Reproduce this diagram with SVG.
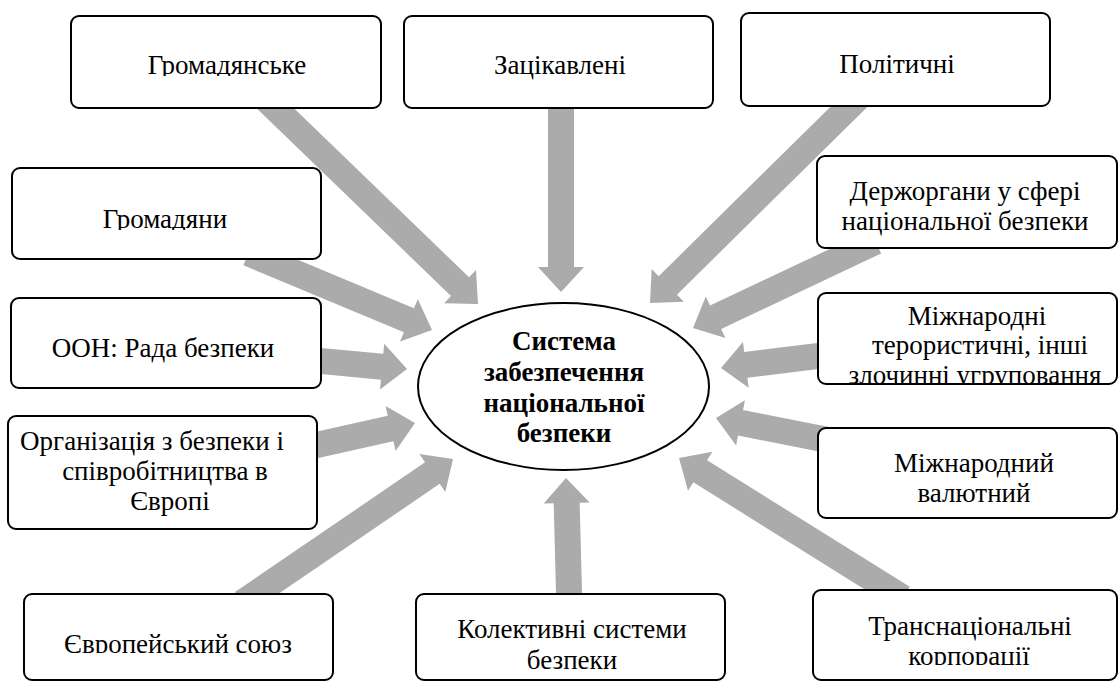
<svg xmlns="http://www.w3.org/2000/svg" width="1119" height="682" viewBox="0 0 1119 682">
<style>
.box{fill:#fff;stroke:#000;stroke-width:2}
.arr{fill:#ABABAB}
text{font-family:'Liberation Serif','Times New Roman',serif;font-size:27px;text-anchor:middle;fill:#000}
.b{font-weight:bold}
</style>
<defs>
<clipPath id="c1"><rect x="71" y="16" width="310" height="60"/></clipPath>
<clipPath id="c5"><rect x="12" y="168" width="309" height="62"/></clipPath>
<clipPath id="c8"><rect x="24" y="594" width="309" height="59"/></clipPath>
<clipPath id="c10"><rect x="818" y="293" width="299" height="90"/></clipPath>
<clipPath id="c12"><rect x="813" y="590" width="304" height="75"/></clipPath>
</defs>
<rect width="1119" height="682" fill="#fff"/>
<g id="connectors">
<polygon class="arr" transform="translate(478,304) rotate(44)" points="-300,-13 -25,-13 -25,-23 0,0 -25,23 -25,13 -300,13"/>
<polygon class="arr" transform="translate(561,292) rotate(90)" points="-200,-13 -25,-13 -25,-23 0,0 -25,23 -25,13 -200,13"/>
<polygon class="arr" transform="translate(650,303) rotate(135.4)" points="-296,-13 -25,-13 -25,-23 0,0 -25,23 -25,13 -296,13"/>
<polygon class="arr" transform="translate(693,328) rotate(154.7)" points="-202,-13 -25,-13 -25,-23 0,0 -25,23 -25,13 -202,13"/>
<polygon class="arr" transform="translate(432,330) rotate(22.7)" points="-199,-13 -25,-13 -25,-23 0,0 -25,23 -25,13 -199,13"/>
<polygon class="arr" transform="translate(407,369) rotate(5.3)" points="-101,-13 -25,-13 -25,-23 0,0 -25,23 -25,13 -101,13"/>
<polygon class="arr" transform="translate(415,423) rotate(-12.6)" points="-125,-13 -25,-13 -25,-23 0,0 -25,23 -25,13 -125,13"/>
<polygon class="arr" transform="translate(453,459) rotate(-34.3)" points="-255,-13 -25,-13 -25,-23 0,0 -25,23 -25,13 -255,13"/>
<polygon class="arr" transform="translate(566,478) rotate(-91.5)" points="-131,-13 -25,-13 -25,-23 0,0 -25,23 -25,13 -131,13"/>
<polygon class="arr" transform="translate(721,368) rotate(172.9)" points="-113,-13 -25,-13 -25,-23 0,0 -25,23 -25,13 -113,13"/>
<polygon class="arr" transform="translate(716,418) rotate(191.1)" points="-119,-13 -25,-13 -25,-23 0,0 -25,23 -25,13 -119,13"/>
<polygon class="arr" transform="translate(679,458) rotate(212)" points="-264,-13 -25,-13 -25,-23 0,0 -25,23 -25,13 -264,13"/>
</g>
<g id="n-center">
<ellipse cx="563.5" cy="386.5" rx="145.5" ry="83.5" fill="#fff" stroke="#000" stroke-width="2"/>
<text class="b" x="564" y="350">Система</text>
<text class="b" x="564" y="381">забезпечення</text>
<text class="b" x="564" y="412">національної</text>
<text class="b" x="564" y="442">безпеки</text>
</g>
<g id="n1">
<rect class="box" x="71" y="16" width="310" height="92" rx="8"/>
<text x="227" y="74" clip-path="url(#c1)">Громадянське</text>
</g>
<g id="n2">
<rect class="box" x="404" y="16" width="309" height="92" rx="8"/>
<text x="560" y="74">Зацікавлені</text>
</g>
<g id="n3">
<rect class="box" x="741" y="13" width="309" height="93" rx="8"/>
<text x="897" y="73">Політичні</text>
</g>
<g id="n4">
<rect class="box" x="817" y="156" width="300" height="92" rx="8"/>
<text x="965" y="200">Держоргани у сфері</text>
<text x="965" y="230">національної безпеки</text>
</g>
<g id="n5">
<rect class="box" x="12" y="168" width="309" height="91" rx="8"/>
<text x="165" y="228" clip-path="url(#c5)">Громадяни</text>
</g>
<g id="n6">
<rect class="box" x="11" y="298" width="310" height="90" rx="8"/>
<text x="163" y="357">ООН: Рада безпеки</text>
</g>
<g id="n7">
<rect class="box" x="8" y="416" width="309" height="113" rx="8"/>
<text x="152" y="450">Організація з безпеки і</text>
<text x="165" y="480">співробітництва в</text>
<text x="170" y="510">Європі</text>
</g>
<g id="n8">
<rect class="box" x="24" y="594" width="309" height="86" rx="8"/>
<text x="178" y="653" clip-path="url(#c8)">Європейський союз</text>
</g>
<g id="n9">
<rect class="box" x="416" y="594" width="309" height="86" rx="8"/>
<text x="572" y="638">Колективні системи</text>
<text x="572" y="669">безпеки</text>
</g>
<g id="n10">
<rect class="box" x="818" y="293" width="299" height="91" rx="8"/>
<g clip-path="url(#c10)">
<text x="977" y="325">Міжнародні</text>
<text x="980" y="354">терористичні, інші</text>
<text x="975" y="384">злочинні угруповання</text>
</g>
</g>
<g id="n11">
<rect class="box" x="818" y="428" width="299" height="90" rx="8"/>
<text x="974" y="472">Міжнародний</text>
<text x="974" y="502">валютний</text>
</g>
<g id="n12">
<rect class="box" x="813" y="590" width="304" height="90" rx="8"/>
<g clip-path="url(#c12)">
<text x="970" y="635">Транснаціональні</text>
<text x="969" y="665">корпорації</text>
</g>
</g>
</svg>
